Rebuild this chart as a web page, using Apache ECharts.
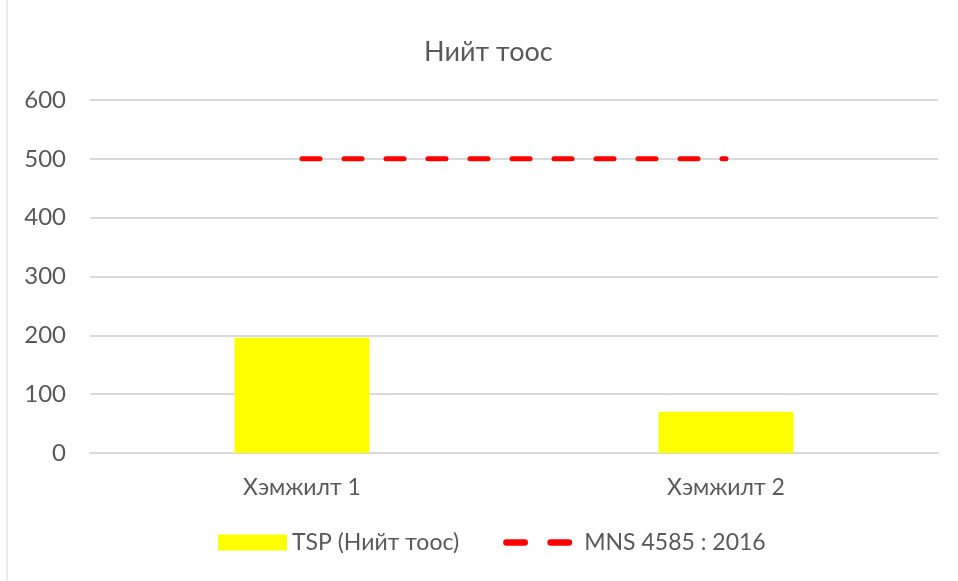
<!DOCTYPE html>
<html>
<head>
<meta charset="utf-8">
<script src="https://cdn.jsdelivr.net/npm/echarts@6/dist/echarts.min.js"></script>
<style>
  html, body { margin: 0; padding: 0; background: #fff; }
  #main { width: 958px; height: 581px; }
</style>
</head>
<body>
<div id="main"></div>
<script>
// data
const categories = ['Хэмжилт 1', 'Хэмжилт 2'];
const tspValues = [196, 70];
const mnsValues = [500, 500];
const seriesNames = ['TSP (Нийт тоос)', 'MNS 4585 : 2016'];

const chart = echarts.init(document.getElementById('main'));
const font = 'Lato, "Open Sans", sans-serif';
// two rounded dashes for the standard line in the legend
const dashIcon = 'path://M3,0 h17 a3,3 0 0 1 0,6 h-17 a3,3 0 0 1 0,-6 z M44,0 h17 a3,3 0 0 1 0,6 h-17 a3,3 0 0 1 0,-6 z';

chart.setOption({
  animation: false,
  textStyle: { fontFamily: font },
  title: {
    text: 'Нийт тоос',
    left: 419,
    top: 34,
    textStyle: { fontSize: 27, fontWeight: 'normal', color: '#595959', fontFamily: font }
  },
  grid: { left: 90, right: 20, top: 100, bottom: 128, containLabel: false },
  legend: {
    bottom: 22,
    left: 213,
    itemWidth: 69,
    itemHeight: 16,
    itemGap: 44,
    textStyle: { fontSize: 23, color: '#595959', fontFamily: font },
    data: [
      { name: seriesNames[0], icon: 'rect' },
      { name: seriesNames[1], icon: dashIcon, textStyle: { padding: [0, 0, 0, 7] } }
    ]
  },
  xAxis: {
    type: 'category',
    data: categories,
    boundaryGap: true,
    axisLine: { lineStyle: { color: '#d9d9d9', width: 2 } },
    axisTick: { show: false },
    axisLabel: { fontSize: 23, color: '#595959', margin: 23 }
  },
  yAxis: {
    type: 'value',
    min: 0,
    max: 600,
    interval: 100,
    axisLine: { show: false },
    axisTick: { show: false },
    axisLabel: { fontSize: 24, color: '#595959', margin: 24 },
    splitLine: { lineStyle: { color: '#d9d9d9', width: 2 } }
  },
  series: [
    {
      name: seriesNames[0],
      type: 'bar',
      data: tspValues,
      barWidth: 135,
      itemStyle: { color: '#ffff00' }
    },
    {
      name: seriesNames[1],
      type: 'line',
      data: mnsValues,
      symbol: 'none',
      lineStyle: { color: '#ff0000', width: 5, type: [18, 24], cap: 'round' },
      itemStyle: { color: '#ff0000' }
    }
  ],
  graphic: [
    {
      type: 'line',
      shape: { x1: 7, y1: 0, x2: 7, y2: 581 },
      style: { stroke: '#d9d9d9', lineWidth: 1 }
    }
  ]
});
</script>
</body>
</html>
